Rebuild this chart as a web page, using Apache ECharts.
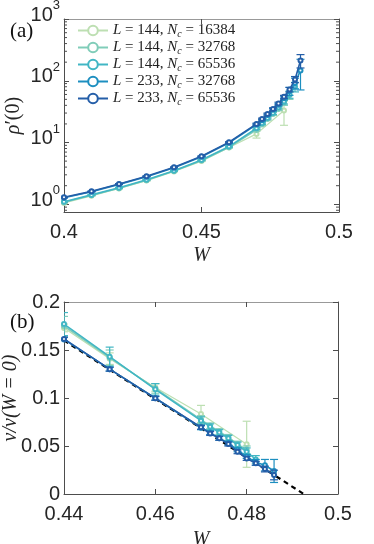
<!DOCTYPE html>
<html><head><meta charset="utf-8">
<script src="https://cdn.jsdelivr.net/npm/echarts@6/dist/echarts.min.js"></script>
<style>html,body{margin:0;padding:0;background:#fff}#c{width:374px;height:544px}</style>
</head><body><div id="c"></div>
<script>
// ---------- data ----------
const seriesNames = ['L = 144, Nc = 16384','L = 144, Nc = 32768','L = 144, Nc = 65536','L = 233, Nc = 32768','L = 233, Nc = 65536'];
const seriesColors = ['#bddfb2','#80cdb9','#41b6c4','#1d8fc0','#245ea8'];

// panel (a): rho'(0) vs W
const xA1 = [0.40,0.41,0.42,0.43,0.44,0.45,0.46,0.47,0.48];
const yA1 = [1.05,1.37,1.80,2.42,3.40,5.0,8.3,13.8,33];
const eA1 = [0.02,0.02,0.03,0.04,0.05,0.08,0.2,2,14];
const xA2 = [0.40,0.41,0.42,0.43,0.44,0.45,0.46,0.47,0.472,0.474,0.476,0.478,0.48,0.482];
const yA2 = [1.08,1.40,1.82,2.45,3.45,5.1,8.4,16,19.5,24,29,35,44,58];
const eA2 = [0.02,0.02,0.03,0.04,0.05,0.08,0.2,0.6,0.8,1,1.5,2,4,8];
const xA3 = [0.40,0.41,0.42,0.43,0.44,0.45,0.46,0.47,0.472,0.474,0.476,0.478,0.48,0.482,0.484];
const yA3 = [1.10,1.42,1.85,2.50,3.50,5.2,8.6,17,20.5,25,30,37,46,60,80];
const eA3 = [0.02,0.02,0.03,0.04,0.05,0.08,0.2,0.6,0.8,1,1.5,2,4,8,14];
const xA4 = [0.40,0.41,0.42,0.43,0.44,0.45,0.46,0.47,0.472,0.474,0.476,0.478,0.48,0.482,0.484,0.486];
const yA4 = [1.28,1.60,2.10,2.80,3.90,5.9,9.9,19.5,23,28,34,41,52,68,92,147];
const eA4 = [0.02,0.02,0.03,0.04,0.05,0.08,0.2,0.6,0.8,1,1.5,2,3,10,18,76];
const xA5 = [0.40,0.41,0.42,0.43,0.44,0.45,0.46,0.47,0.472,0.474,0.476,0.478,0.48,0.482,0.484,0.486];
const yA5 = [1.30,1.62,2.13,2.85,3.98,6.0,10.1,20,24,29,35,43,55,72,105,213];
const eA5 = [0.02,0.02,0.03,0.04,0.05,0.08,0.2,0.6,0.8,1,1.5,2,3,6,12,52];

// panel (b): v/v(W=0) vs W
const xB1 = [0.44,0.45,0.46,0.47,0.48];
const yB1 = [0.173,0.141,0.111,0.0833,0.0518];
const eB1 = [0.004,0.006,0.004,0.009,0.024];
const xB2 = [0.44,0.45,0.46,0.47,0.472,0.474,0.476,0.478,0.48];
const yB2 = [0.175,0.142,0.110,0.0775,0.071,0.065,0.059,0.052,0.046];
const eB2 = [0.010,0.008,0.005,0.004,0.003,0.003,0.003,0.003,0.004];
const xB3 = [0.44,0.45,0.46,0.47,0.472,0.474,0.476,0.478,0.48,0.482];
const yB3 = [0.177,0.143,0.109,0.0764,0.070,0.064,0.058,0.051,0.044,0.036];
const eB3 = [0.012,0.010,0.006,0.004,0.003,0.003,0.003,0.003,0.004,0.004];
const xB4 = [0.44,0.45,0.46,0.47,0.472,0.474,0.476,0.478,0.48,0.482,0.484,0.486];
const yB4 = [0.161,0.130,0.0997,0.069,0.064,0.058,0.053,0.046,0.039,0.033,0.030,0.024];
const eB4 = [0.002,0.002,0.002,0.002,0.002,0.002,0.002,0.002,0.002,0.003,0.006,0.012];
const xB5 = [0.44,0.45,0.46,0.47,0.472,0.474,0.476,0.478,0.48,0.482,0.484,0.486];
const yB5 = [0.1615,0.130,0.0997,0.0695,0.063,0.058,0.052,0.044,0.037,0.032,0.026,0.0198];
const eB5 = [0.002,0.002,0.002,0.002,0.002,0.002,0.002,0.002,0.002,0.002,0.003,0.005];

// linear fit (dashed)
const fitX = [0.44, 0.4925];
const fitY = [0.160, 0];

// ticks
const xTicksA = [0.4, 0.45, 0.5];
const yMajorA = [1, 10, 100, 1000];
const xTicksB = [0.44, 0.46, 0.48, 0.5];
const yTicksB = [0, 0.05, 0.1, 0.15, 0.2];

// ---------- build ----------
const xsA = [xA1,xA2,xA3,xA4,xA5], ysA = [yA1,yA2,yA3,yA4,yA5], esA = [eA1,eA2,eA3,eA4,eA5];
const xsB = [xB1,xB2,xB3,xB4,xB5], ysB = [yB1,yB2,yB3,yB4,yB5], esB = [eB1,eB2,eB3,eB4,eB5];

const AX = '#4d4d4d';
const tickFont = {fontFamily:'Liberation Sans', fontSize:20, color:'#262626'};
const serifIt = {fontFamily:'Liberation Serif', fontStyle:'italic', fontSize:20, color:'#262626'};

function errRender(params, api) {
  const x = api.value(0), lo = api.value(1), hi = api.value(2);
  const p1 = api.coord([x, lo]), p2 = api.coord([x, hi]);
  const w = 4;
  const style = {stroke: api.visual('color'), lineWidth: 1.2, fill: null};
  return {type:'group', children:[
    {type:'line', shape:{x1:p1[0],y1:p1[1],x2:p2[0],y2:p2[1]}, style},
    {type:'line', shape:{x1:p1[0]-w,y1:p1[1],x2:p1[0]+w,y2:p1[1]}, style},
    {type:'line', shape:{x1:p2[0]-w,y1:p2[1],x2:p2[0]+w,y2:p2[1]}, style}
  ]};
}
function minorRender(params, api) {
  const v = api.value(1);
  const p = api.coord([api.value(0), v]);
  const cs = params.coordSys;
  const style = {stroke: AX, lineWidth: 1};
  return {type:'group', children:[
    {type:'line', shape:{x1:cs.x,y1:p[1],x2:cs.x+3,y2:p[1]}, style},
    {type:'line', shape:{x1:cs.x+cs.width,y1:p[1],x2:cs.x+cs.width-3,y2:p[1]}, style}
  ]};
}

const minorVals = [];
for (let d = 0.1; d < 1000; d *= 10) for (let m = 2; m <= 9; m++) {
  const v = +(m*d).toPrecision(3);
  if (v > 0.75 && v < 1000) minorVals.push([0.45, v]);
}

const series = [];
// panel (a)
for (let i = 0; i < 5; i++) {
  series.push({
    type:'custom', xAxisIndex:0, yAxisIndex:0, renderItem: errRender, clip:true,
    itemStyle:{color: seriesColors[i]}, z: 2+i,
    encode:{x:0, y:[1,2]},
    data: xsA[i].map((x,k)=>[x, Math.max(ysA[i][k]-esA[i][k], 0.8), ysA[i][k]+esA[i][k]])
  });
  series.push({
    name: seriesNames[i], type:'line', xAxisIndex:0, yAxisIndex:0, z: 2+i,
    symbol:'emptyCircle', symbolSize:4, showSymbol:true,
    lineStyle:{width: i===0?1.2:1.6, color: seriesColors[i]},
    itemStyle:{color: seriesColors[i], borderWidth:1.4},
    data: xsA[i].map((x,k)=>[x, ysA[i][k]])
  });
}
series.push({type:'custom', xAxisIndex:0, yAxisIndex:0, renderItem:minorRender, data:minorVals, silent:true, z:1});
// panel (b)
series.push({
  type:'line', xAxisIndex:2, yAxisIndex:2, z:1, symbol:'none',
  lineStyle:{color:'#000', width:2.2, type:[5,4]},
  data: fitX.map((x,k)=>[x, fitY[k]])
});
for (let i = 0; i < 5; i++) {
  series.push({
    type:'custom', xAxisIndex:2, yAxisIndex:2, renderItem: errRender, clip:true,
    itemStyle:{color: seriesColors[i]}, z: 2+i,
    encode:{x:0, y:[1,2]},
    data: xsB[i].map((x,k)=>[x, ysB[i][k]-esB[i][k], ysB[i][k]+esB[i][k]])
  });
  series.push({
    name: seriesNames[i], type:'line', xAxisIndex:2, yAxisIndex:2, z: 2+i,
    symbol:'emptyCircle', symbolSize:4, showSymbol:true,
    lineStyle:{width: i===0?1.2:1.6, color: seriesColors[i]},
    itemStyle:{color: seriesColors[i], borderWidth:1.4},
    data: xsB[i].map((x,k)=>[x, ysB[i][k]])
  });
}

function boxAxis(extra) {
  return Object.assign({
    axisLine:{show:true, onZero:false, lineStyle:{color:AX, width:1}},
    axisTick:{show:true, inside:true, length:5, lineStyle:{color:AX}},
    axisLabel:{show:false}, splitLine:{show:false}, nameMoveOverlap:false
  }, extra);
}

const legendRich = {
  it:{fontFamily:'Liberation Serif', fontStyle:'italic', fontSize:15, color:'#222'},
  sub:{fontFamily:'Liberation Serif', fontStyle:'italic', fontSize:10, color:'#222', padding:[7,0,0,0]},
  rm:{fontFamily:'Liberation Serif', fontSize:15, color:'#222'}
};

const option = {
  animation:false,
  backgroundColor:'#fff',
  grid:[
    {left:64, right:35, top:19, bottom:332, outerBoundsMode:'none', containLabel:false},
    {left:64, right:36, top:302, bottom:50, outerBoundsMode:'none', containLabel:false}
  ],
  title:[
    {text:'(a)', left:5, top:16, textStyle:{fontFamily:'Liberation Serif', fontSize:21, fontWeight:'normal', color:'#111'}},
    {text:'(b)', left:5, top:307, textStyle:{fontFamily:'Liberation Serif', fontSize:21, fontWeight:'normal', color:'#111'}}
  ],
  legend:{
    data: seriesNames, orient:'vertical', left:72, top:18, itemGap:1,
    itemWidth:30, itemHeight:12,
    textStyle:{fontFamily:'Liberation Serif', fontSize:15, color:'#222', rich:legendRich},
    formatter: function(n){
      const m = n.match(/L = (\d+), Nc = (\d+)/);
      return '{it|L}{rm| = ' + m[1] + ', }{it|N}{sub|c}{rm| = ' + m[2] + '}';
    }
  },
  xAxis:[
    boxAxis({gridIndex:0, type:'value', min:xTicksA[0], max:xTicksA[xTicksA.length-1], interval:0.05, position:'bottom',
      axisLabel:Object.assign({show:true, margin:10, formatter:v=>String(+v.toFixed(2))}, tickFont),
      name:'W', nameLocation:'middle', nameGap:34, nameTextStyle:serifIt}),
    boxAxis({gridIndex:0, type:'value', min:xTicksA[0], max:xTicksA[xTicksA.length-1], interval:0.05, position:'top',
      axisLine:{show:true, onZero:false, lineStyle:{color:'#999', width:1}}}),
    boxAxis({gridIndex:1, type:'value', min:xTicksB[0], max:xTicksB[xTicksB.length-1], interval:0.02, position:'bottom',
      axisLabel:Object.assign({show:true, margin:10, formatter:v=>String(+v.toFixed(2))}, tickFont),
      name:'W', nameLocation:'middle', nameGap:36, nameTextStyle:serifIt}),
    boxAxis({gridIndex:1, type:'value', min:xTicksB[0], max:xTicksB[xTicksB.length-1], interval:0.02, position:'top',
      axisLine:{show:true, onZero:false, lineStyle:{color:'#999', width:1}}})
  ],
  yAxis:[
    boxAxis({gridIndex:0, type:'log', logBase:10, min:0.75, max:yMajorA[yMajorA.length-1], position:'left',
      axisLabel:{show:true, margin:4, showMinLabel:false, padding:[0,0,14,0],
        formatter:function(v){ const e = Math.log10(v); if (Math.abs(e-Math.round(e))>1e-6) return ''; return '{b|10}{sup|'+Math.round(e)+'}'; },
        rich:{
          b:{fontFamily:'Liberation Sans', fontSize:20, color:'#262626', lineHeight:20, verticalAlign:'bottom'},
          sup:{fontFamily:'Liberation Sans', fontSize:13, color:'#262626', lineHeight:26, verticalAlign:'top'}
        }},
      name:'{it|ρ}′(0)', nameLocation:'middle', nameGap:40, nameRotate:90,
      nameTextStyle:Object.assign({}, serifIt, {fontStyle:'normal', rich:{it:serifIt}})}),
    boxAxis({gridIndex:0, type:'log', logBase:10, min:0.75, max:yMajorA[yMajorA.length-1], position:'right'}),
    boxAxis({gridIndex:1, type:'value', min:yTicksB[0], max:yTicksB[yTicksB.length-1], interval:0.05, position:'left',
      axisLabel:Object.assign({show:true, margin:4, formatter:v=>String(+v.toFixed(2))}, tickFont),
      name:'v/v(W = 0)', nameLocation:'middle', nameGap:43, nameRotate:90, nameTextStyle:serifIt}),
    boxAxis({gridIndex:1, type:'value', min:yTicksB[0], max:yTicksB[yTicksB.length-1], interval:0.05, position:'right'})
  ],
  series: series
};
const chart = echarts.init(document.getElementById('c'), null, {renderer:'canvas'});
chart.setOption(option);
</script></body></html>
